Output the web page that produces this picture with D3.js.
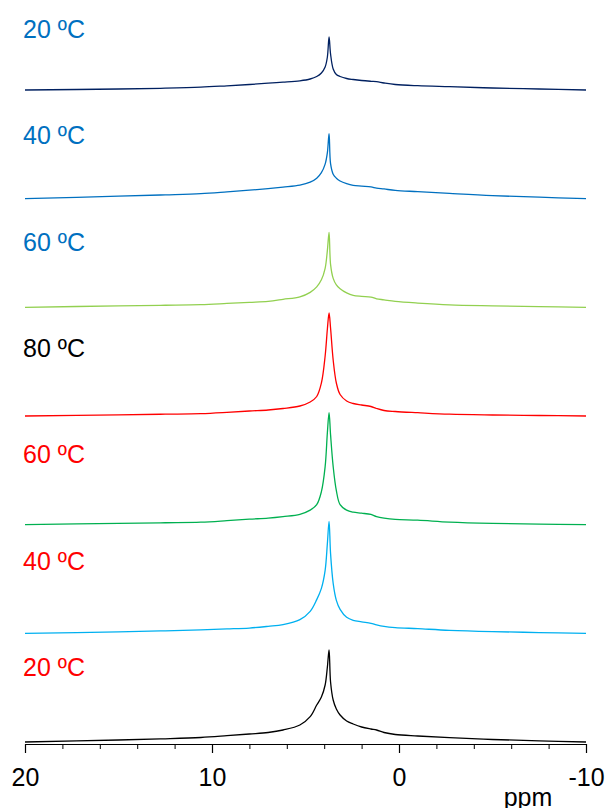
<!DOCTYPE html>
<html>
<head>
<meta charset="utf-8">
<script src="https://cdn.jsdelivr.net/npm/d3@7"></script>
<style>
  html, body { margin: 0; padding: 0; background: #fff; }
  svg { display: block; }
</style>
</head>
<body>
<script>
// chemical shift grid (ppm), shared by every trace
const ppm = [20, 15, 12.5, 10.6, 9.2, 8, 7, 6.2, 5.3, 4.75, 4.4, 4.15, 3.95, 3.83, 3.74, 3.66, 3.52, 3.35, 3.15, 2.8, 2.45, 2.0, 1.5, 1.2, 0.8, 0.2, -1, -2.7, -5, -7.5, -10];

// intensities (arbitrary units), top trace first
const s20a = [0, 1, 1.8, 2.8, 4.2, 5.5, 6.8, 7.8, 9.2, 11, 13.5, 17, 23, 33, 53, 36, 21, 15.5, 13.5, 11.5, 10.5, 9.5, 8.7, 8.3, 7, 5.5, 4.3, 3.3, 2, 1, 0];
const s40a = [0, 2.5, 3.8, 5, 6.8, 8.5, 10, 11.5, 13.5, 16.5, 20.5, 26, 34.5, 46, 65, 35, 24.5, 20.5, 17.7, 15, 13.3, 12.5, 11.7, 10.5, 9.7, 8.3, 7, 5.2, 3, 1.5, 0];
const s60a = [0, 1.5, 2.1, 2.7, 3.9, 5, 6, 8, 10.5, 15, 20.5, 27.5, 39, 57, 75, 43, 29, 22.5, 18.7, 14.5, 12, 11, 10.3, 8.5, 7.5, 6, 4.3, 2.5, 1.5, 0.7, 0];
const s80  = [0, 1.2, 1.8, 2.3, 3.6, 5, 6, 7.5, 10, 14, 19.5, 33, 60, 87, 103, 88, 56, 33, 21.5, 15, 12.5, 11, 9.5, 7.5, 5.5, 4.5, 3.3, 1.8, 1, 0.5, 0];
const s60b = [0, 1.3, 1.9, 2.5, 4, 5.5, 6.5, 8, 10.3, 14.5, 20, 33, 58, 92, 112, 90, 58, 34, 20, 14.5, 12.5, 11.5, 10.2, 8, 6.5, 5.2, 4.5, 2.6, 1.3, 0.6, 0];
const s40b = [0, 1.5, 2.5, 3.5, 4.4, 5.3, 7, 8.7, 13.7, 22, 33.7, 45, 63, 90, 112, 80, 50, 33, 24, 16, 13, 11.5, 10, 8.5, 7, 5.8, 4.7, 3, 1.7, 0.8, 0];
const s20b = [0, 2, 3.2, 4.5, 6.3, 8, 9.5, 12, 17, 25.3, 37, 45, 57, 75, 92, 60, 42, 33, 27, 21, 18, 15, 13, 12, 9.5, 7.5, 6, 4.3, 2.5, 1.2, 0];

const series = [s20a, s40a, s60a, s80, s60b, s40b, s20b];
const labels = ["20 ºC", "40 ºC", "60 ºC", "80 ºC", "60 ºC", "40 ºC", "20 ºC"];
const lineColors = ["#002060", "#0070C0", "#92D050", "#FF0000", "#00B050", "#00B0F0", "#000000"];
const labelColors = ["#0070C0", "#0070C0", "#0070C0", "#000000", "#FF0000", "#FF0000", "#FF0000"];

const majorTicks = [20, 10, 0, -10];
const minorTicks = [18, 16, 14, 12, 8, 6, 4, 2, -2, -4, -6, -8];

const width = 606;
const height = 808;
const font = "'Liberation Sans', Arial, sans-serif";

const svg = d3.select("body")
    .append("svg")
    .attr("width", width)
    .attr("height", height)
    .attr("viewBox", [0, 0, width, height]);

const x = d3.scaleLinear().domain([20, -10]).range([25, 586]);
const base = d3.scaleLinear().domain([0, 6]).range([90, 742]);
const labelY = d3.scaleLinear().domain([0, 6]).range([38, 676]);
const axisY = 744;

series.forEach((vals, i) => {
    const y = d3.scaleLinear().domain([0, 100]).range([base(i), base(i) - 100]);
    const line = d3.line()
        .x((d, j) => x(ppm[j]))
        .y(d => y(d))
        .curve(d3.curveCatmullRom.alpha(0.5));
    svg.append("path")
        .datum(vals)
        .attr("fill", "none")
        .attr("stroke", lineColors[i])
        .attr("stroke-width", 1.3)
        .attr("d", line);

    svg.append("text")
        .attr("x", 23)
        .attr("y", labelY(i))
        .attr("font-family", font)
        .attr("font-size", 25)
        .attr("fill", labelColors[i])
        .text(labels[i]);
});

// minor ticks
svg.append("g")
    .attr("transform", `translate(0,${axisY})`)
    .call(d3.axisBottom(x).tickValues(minorTicks).tickSize(5).tickFormat(""))
    .call(g => g.select(".domain").remove())
    .call(g => g.selectAll("line").attr("stroke", "#000").attr("stroke-width", 1));

// major ticks + labels (plain hyphen for the minus sign)
svg.append("g")
    .attr("transform", `translate(0,${axisY})`)
    .call(d3.axisBottom(x).tickValues(majorTicks).tickSize(9).tickSizeOuter(0).tickPadding(15).tickFormat(d => String(d)))
    .call(g => g.select(".domain").attr("stroke", "#000").attr("stroke-width", 1.2))
    .call(g => g.selectAll("line").attr("stroke", "#000").attr("stroke-width", 1.2))
    .call(g => g.selectAll("text")
        .attr("font-family", font)
        .attr("font-size", 25)
        .attr("fill", "#000"));

svg.append("text")
    .attr("x", 528)
    .attr("y", 806)
    .attr("text-anchor", "middle")
    .attr("font-family", font)
    .attr("font-size", 25)
    .attr("fill", "#000")
    .text("ppm");
</script>
</body>
</html>
